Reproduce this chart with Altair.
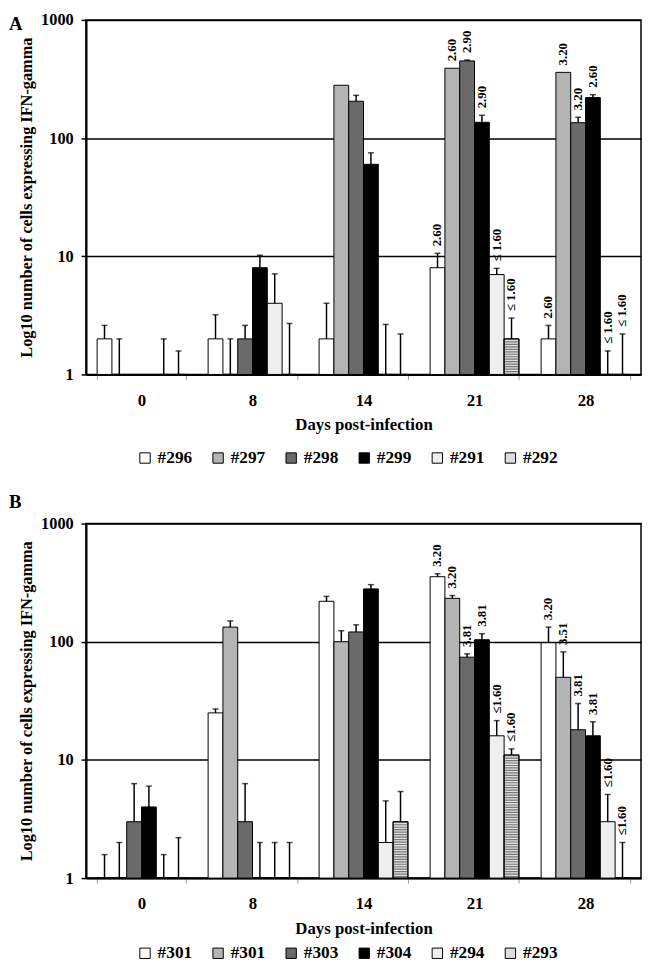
import altair as alt
import pandas as pd

SERIF = "Liberation Serif"

days = ["0", "8", "14", "21", "28"]

# ---------- Panel A ----------
series_a = ["#296", "#297", "#298", "#299", "#291", "#292"]
values_a = [
    [2, 2, 2, 8, 2],
    [1, 1, 280, 390, 360],
    [1, 2, 205, 450, 135],
    [1, 8, 60, 136, 220],
    [1, 4, 1, 7, 1],
    [1, 1, 1, 2, 1],
]
errtop_a = [
    [2.6, 3.2, 4.0, 10.6, 2.6],
    [2.0, 2.0, 280, 390, 360],
    [1, 2.6, 230, 458, 150],
    [1, 10.2, 75, 156, 233],
    [2.0, 7.1, 2.65, 7.9, 1.58],
    [1.58, 2.7, 2.2, 3.0, 2.2],
]
labels_a = [
    ["", "", "", "2.60", "2.60"],
    ["", "", "", "2.60", "3.20"],
    ["", "", "", "2.90", "3.20"],
    ["", "", "", "2.90", "2.60"],
    ["", "", "", "≤ 1.60", "≤ 1.60"],
    ["", "", "", "≤ 1.60", "≤ 1.60"],
]

# ---------- Panel B ----------
series_b = ["#301", "#301", "#303", "#304", "#294", "#293"]
values_b = [
    [1, 25, 220, 355, 98],
    [1, 133, 100, 233, 50],
    [3, 3, 121, 74, 18],
    [4, 1, 280, 104, 16],
    [1, 1, 2, 16, 3],
    [1, 1, 3, 11, 1],
]
errtop_b = [
    [1.58, 27, 242, 376, 133],
    [2.0, 150, 124, 246, 82],
    [6.3, 6.3, 139, 79, 30],
    [6.0, 2.0, 304, 117, 21],
    [1.58, 2.0, 4.5, 21.5, 5.1],
    [2.2, 2.0, 5.4, 12.4, 2.0],
]
labels_b = [
    ["", "", "", "3.20", "3.20"],
    ["", "", "", "3.20", "3.51"],
    ["", "", "", "3.81", "3.81"],
    ["", "", "", "3.81", "3.81"],
    ["", "", "", "≤1.60", "≤1.60"],
    ["", "", "", "≤1.60", "≤1.60"],
]

fills = ["#ffffff", "#b4b4b4", "#6a6a6a", "#000000", "#eeeeee", "#dedede"]

W = 562
H = 359


def panel(letter, series, values, errtop, labels, legend_y, letter_y):
    keys = [f"{i + 1}{s}" for i, s in enumerate(series)]
    rows = []
    for si, k in enumerate(keys):
        for di, d in enumerate(days):
            rows.append(dict(day=d, key=k, kind=si, value=values[si][di],
                             err=errtop[si][di], label=labels[si][di]))
    df = pd.DataFrame(rows)

    yscale = alt.Scale(type="log", domain=[1, 1000])
    xaxis = alt.Axis(labelAngle=0, tickBand="extent", domainColor="black", domainWidth=2,
                     tickColor="#9a9a9a", tickSize=5, grid=False,
                     labelFont=SERIF, labelFontSize=17, labelFontWeight="bold", labelColor="black",
                     labelPadding=13, title="Days post-infection", titleFont=SERIF, titleFontSize=17,
                     titleFontWeight="bold", titleColor="black", titlePadding=9)
    yaxis = alt.Axis(values=[1, 10, 100, 1000], format="d", grid=True, gridColor="black", gridWidth=1.5,
                     domainColor="black", domainWidth=2, tickColor="black", tickWidth=1.5, tickSize=5,
                     labelFont=SERIF, labelFontSize=16.5, labelFontWeight="bold", labelColor="black",
                     labelPadding=8, title="Log10 number of cells expressing IFN-gamma",
                     titleFont=SERIF, titleFontSize=16.5, titleFontWeight="bold", titleColor="black",
                     titlePadding=6)

    base = alt.Chart(df).encode(
        x=alt.X("day:N", sort=days, scale=alt.Scale(paddingInner=0.2, paddingOuter=0.1), axis=xaxis),
        xOffset=alt.XOffset("key:N", sort=keys, scale=alt.Scale(domain=keys, paddingInner=0, paddingOuter=0)),
    )

    bars = base.mark_bar(stroke="black", strokeWidth=1).encode(
        y=alt.Y("value:Q", scale=yscale, axis=yaxis),
        y2=alt.datum(1),
        fill=alt.Fill("key:N", scale=alt.Scale(domain=keys, range=fills), title=None,
                      legend=alt.Legend(orient="none", legendX=51, legendY=legend_y, direction="horizontal",
                                        columns=6, symbolType="square", symbolSize=110,
                                        symbolStrokeColor="black", symbolStrokeWidth=1,
                                        labelFont=SERIF, labelFontSize=17.5, labelFontWeight="bold",
                                        labelColor="black", labelExpr="substring(datum.label, 1)",
                                        columnPadding=17, labelOffset=4)),
    )

    stripes = base.transform_filter("datum.kind == 5 && datum.value > 1").mark_rule(
        strokeWidth=13.5, strokeDash=[1.2, 1.3], color="#7a7a7a"
    ).encode(y=alt.Y("value:Q", scale=yscale), y2=alt.datum(1))

    outline = base.transform_filter("datum.kind == 5 && datum.value > 1").mark_bar(
        fillOpacity=0, stroke="black", strokeWidth=1
    ).encode(y=alt.Y("value:Q", scale=yscale), y2=alt.datum(1))

    errs = base.transform_filter("datum.err > datum.value").mark_rule(color="black", strokeWidth=1.5).encode(
        y=alt.Y("value:Q", scale=yscale), y2=alt.Y2("err:Q"))

    caps = base.transform_filter("datum.err > datum.value").mark_tick(
        color="black", thickness=1.5, size=6).encode(y=alt.Y("err:Q", scale=yscale))

    texts = base.transform_filter("datum.label != ''").mark_text(
        angle=270, align="left", baseline="middle", dx=7, font=SERIF, fontSize=13,
        fontWeight="bold", color="black"
    ).encode(y=alt.Y("err:Q", scale=yscale), text="label:N")

    letter_mark = alt.Chart(pd.DataFrame({"t": [letter]})).mark_text(
        align="left", baseline="top", font=SERIF, fontSize=19, fontWeight="bold", color="black"
    ).encode(text="t:N", x=alt.value(-78), y=alt.value(letter_y))

    return alt.layer(bars, stripes, outline, errs, caps, texts, letter_mark).properties(width=W, height=H)


pa = panel("A", series_a, values_a, errtop_a, labels_a, legend_y=H + 75.5, letter_y=-5)
pb = panel("B", series_b, values_b, errtop_b, labels_b, legend_y=H + 67, letter_y=-31)

chart = alt.vconcat(pa, pb, spacing=24).resolve_scale(
    fill="independent", xOffset="independent"
).resolve_legend(fill="independent").properties(
    padding={"left": 0, "top": -3, "right": 0, "bottom": 0}
).configure_view(stroke="black", strokeWidth=1.5)

chart.save("out.html", embed_options={"renderer": "svg", "actions": False})
